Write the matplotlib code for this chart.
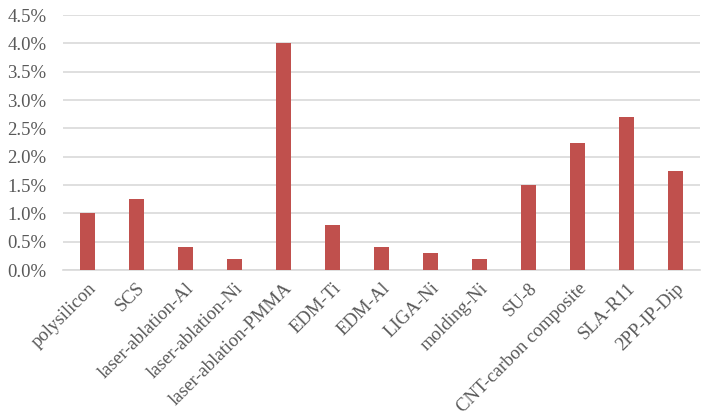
import matplotlib
matplotlib.use("Agg")
import matplotlib.pyplot as plt
from matplotlib.ticker import FuncFormatter, MultipleLocator

categories = ["polysilicon", "SCS", "laser-ablation-Al", "laser-ablation-Ni",
              "laser-ablation-PMMA", "EDM-Ti", "EDM-Al", "LIGA-Ni", "molding-Ni",
              "SU-8", "CNT-carbon composite", "SLA-R11", "2PP-IP-Dip"]
values = [1.0, 1.25, 0.4, 0.2, 4.0, 0.8, 0.4, 0.3, 0.2, 1.5, 2.25, 2.7, 1.75]

plt.rcParams['font.family'] = ['Liberation Serif', 'DejaVu Serif']

fig = plt.figure(figsize=(7.11, 4.17), dpi=100)
ax = fig.add_axes([0.0886, 0.3525, 0.896, 0.6115])

x = range(len(categories))
ax.bar(x, values, width=0.31, color='#C0504D', zorder=3)

ax.set_ylim(0, 4.5)
ax.set_xlim(-0.5, len(categories) - 0.5)
ax.yaxis.set_major_locator(MultipleLocator(0.5))
ax.yaxis.set_major_formatter(FuncFormatter(lambda v, p: f"{v:.1f}%"))
ax.grid(axis='y', color='#D9D9D9', linewidth=1.2, zorder=0)
for s in ['top', 'right', 'left']:
    ax.spines[s].set_visible(False)
ax.spines['bottom'].set_color('#D9D9D9')
ax.spines['bottom'].set_linewidth(1.2)
ax.tick_params(axis='both', length=0, colors='#595959', labelsize=13.5)
ax.tick_params(axis='y', labelsize=13.5, pad=12)
ax.set_xticks(list(x))
ax.set_xticklabels(categories, rotation=45, ha='right', rotation_mode='anchor')
ax.tick_params(axis='x', pad=7)

fig.savefig("out.png", dpi=100)
